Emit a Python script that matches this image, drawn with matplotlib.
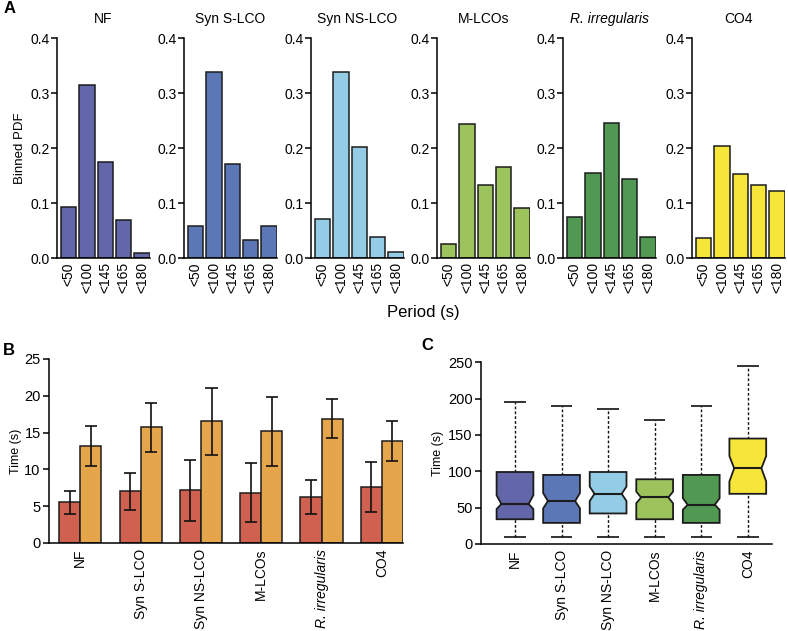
import matplotlib
matplotlib.use('Agg')
import matplotlib.pyplot as plt
import numpy as np

plt.rcParams['font.family'] = ['Liberation Sans', 'DejaVu Sans']
plt.rcParams['axes.linewidth'] = 1.1

# groups and colours
groups = ['NF', 'Syn S-LCO', 'Syn NS-LCO', 'M-LCOs', 'R. irregularis', 'CO4']
colors = ['#6367a9', '#5b77b5', '#95cce5', '#9dc35c', '#519852', '#f6e63a']
italic = [False, False, False, False, True, False]

# panel A: binned PDF of period
bins = ['<50', '<100', '<145', '<165', '<180']
pdf_nf = [0.093, 0.316, 0.175, 0.070, 0.009]
pdf_syn_s = [0.059, 0.339, 0.172, 0.033, 0.059]
pdf_syn_ns = [0.072, 0.339, 0.202, 0.038, 0.011]
pdf_mlco = [0.025, 0.244, 0.133, 0.166, 0.092]
pdf_rirr = [0.074, 0.155, 0.246, 0.144, 0.039]
pdf_co4 = [0.036, 0.205, 0.153, 0.134, 0.122]
pdfs = [pdf_nf, pdf_syn_s, pdf_syn_ns, pdf_mlco, pdf_rirr, pdf_co4]

# panel B: mean times with asymmetric error bars
red_mean = [5.5, 7.0, 7.2, 6.8, 6.2, 7.6]
red_lo = [4.0, 4.5, 3.0, 2.8, 4.0, 4.2]
red_hi = [7.1, 9.5, 11.3, 10.8, 8.5, 11.0]
orange_mean = [13.2, 15.8, 16.6, 15.2, 16.9, 13.8]
orange_lo = [10.4, 12.4, 11.9, 10.5, 14.3, 11.1]
orange_hi = [15.9, 19.0, 21.1, 19.8, 19.5, 16.6]

# panel C: notched box stats
q1 = [34, 29, 42, 34, 29, 69]
q3 = [99, 95, 99, 89, 95, 145]
med = [55, 59, 69, 64, 54, 104]
ci_lo = [48, 49, 59, 56, 47, 86]
ci_hi = [67, 70, 79, 72, 63, 121]
wlo = [10, 10, 10, 10, 10, 10]
whi = [195, 190, 185, 170, 190, 245]

edge = '#1c1c1c'
fig = plt.figure(figsize=(7.88, 6.31), dpi=100)

# ---------------- panel A
lefts = [0.0723, 0.2335, 0.3947, 0.5546, 0.7145, 0.878]
x = np.arange(len(bins))
for i, g in enumerate(groups):
    ax = fig.add_axes([lefts[i], 0.591, 0.118, 0.348])
    ax.bar(x, pdfs[i], width=0.84, color=colors[i], edgecolor=edge, linewidth=1.1)
    ax.set_ylim(0, 0.4)
    ax.set_xlim(-0.64, 4.43)
    ax.set_yticks([0.0, 0.1, 0.2, 0.3, 0.4])
    ax.set_yticklabels(['0.0', '0.1', '0.2', '0.3', '0.4'], fontsize=10)
    ax.set_xticks(x)
    ax.set_xticklabels(bins, rotation=90, fontsize=10)
    ax.tick_params(axis='x', length=0, pad=3)
    ax.tick_params(axis='y', length=4, width=1.1, pad=1)
    for s in ['top', 'right']:
        ax.spines[s].set_visible(False)
    ax.set_title(g, fontsize=10, pad=11, fontstyle='italic' if italic[i] else 'normal')
    if i == 0:
        ax.set_ylabel('Binned PDF', fontsize=9.5, labelpad=3)

fig.text(0.537, 0.504, 'Period (s)', ha='center', va='center', fontsize=12)
fig.text(0.004, 0.986, 'A', fontsize=12, fontweight='bold', va='center', ha='left')

# ---------------- panel B
axb = fig.add_axes([0.0622, 0.1395, 0.4492, 0.2916])
xg = np.arange(len(groups))
w = 0.35
axb.bar(xg - w / 2, red_mean, width=w, color='#d0604f', edgecolor=edge, linewidth=1.1, zorder=2)
axb.bar(xg + w / 2, orange_mean, width=w, color='#e5a64b', edgecolor=edge, linewidth=1.1, zorder=2)
for xx, lo, hi in [(xg - w / 2, red_lo, red_hi), (xg + w / 2, orange_lo, orange_hi)]:
    axb.vlines(xx, lo, hi, colors='#111111', linewidth=1.2, zorder=5)
    axb.hlines(lo, xx - 0.1, xx + 0.1, colors='#111111', linewidth=1.2, zorder=5)
    axb.hlines(hi, xx - 0.1, xx + 0.1, colors='#111111', linewidth=1.2, zorder=5)
axb.set_ylim(0, 25)
axb.set_xlim(-0.52, 5.35)
axb.set_yticks([0, 5, 10, 15, 20, 25])
axb.tick_params(axis='y', labelsize=10.5, length=4, width=1.1, pad=2)
axb.set_xticks(xg)
axb.set_xticklabels(groups, rotation=90, fontsize=10)
axb.tick_params(axis='x', length=0, pad=4)
axb.get_xticklabels()[4].set_fontstyle('italic')
for s in ['top', 'right']:
    axb.spines[s].set_visible(False)
axb.set_ylabel('Time (s)', fontsize=9, labelpad=2)
fig.text(0.004, 0.444, 'B', fontsize=12, fontweight='bold', va='center', ha='left')

# ---------------- panel C
axc = fig.add_axes([0.6104, 0.1379, 0.3693, 0.2881])
pos = np.arange(1, len(groups) + 1)
bw = 0.79
nd = 0.13 * bw
cw = 0.46
for i, p in enumerate(pos):
    l, r = p - bw / 2, p + bw / 2
    xs = [l, r, r, r - nd, r, r, l, l, l + nd, l, l]
    ys = [q1[i], q1[i], ci_lo[i], med[i], ci_hi[i], q3[i], q3[i], ci_hi[i], med[i], ci_lo[i], q1[i]]
    axc.fill(xs, ys, facecolor=colors[i], edgecolor=edge, linewidth=1.3, zorder=3)
    axc.plot([l + nd, r - nd], [med[i], med[i]], color=edge, linewidth=1.5, zorder=4)
    axc.vlines(p, wlo[i], q1[i], colors='#111111', linestyles=(0, (2, 1.5)), linewidth=1.0, zorder=2)
    axc.vlines(p, q3[i], whi[i], colors='#111111', linestyles=(0, (2, 1.5)), linewidth=1.0, zorder=2)
    axc.hlines([wlo[i], whi[i]], p - cw / 2, p + cw / 2, colors='#111111', linewidth=1.2, zorder=2)
axc.set_ylim(0, 250)
axc.set_xlim(0.27, 6.52)
axc.set_yticks([0, 50, 100, 150, 200, 250])
axc.tick_params(axis='y', labelsize=10.5, length=4, width=1.1, pad=2)
axc.set_xticks(pos)
axc.set_xticklabels(groups, rotation=90, fontsize=10)
axc.tick_params(axis='x', length=0, pad=4)
axc.get_xticklabels()[4].set_fontstyle('italic')
for s in ['top', 'right']:
    axc.spines[s].set_visible(False)
axc.set_ylabel('Time (s)', fontsize=9, labelpad=3)
fig.text(0.535, 0.453, 'C', fontsize=12, fontweight='bold', va='center', ha='left')

fig.savefig('out.png', dpi=100)
